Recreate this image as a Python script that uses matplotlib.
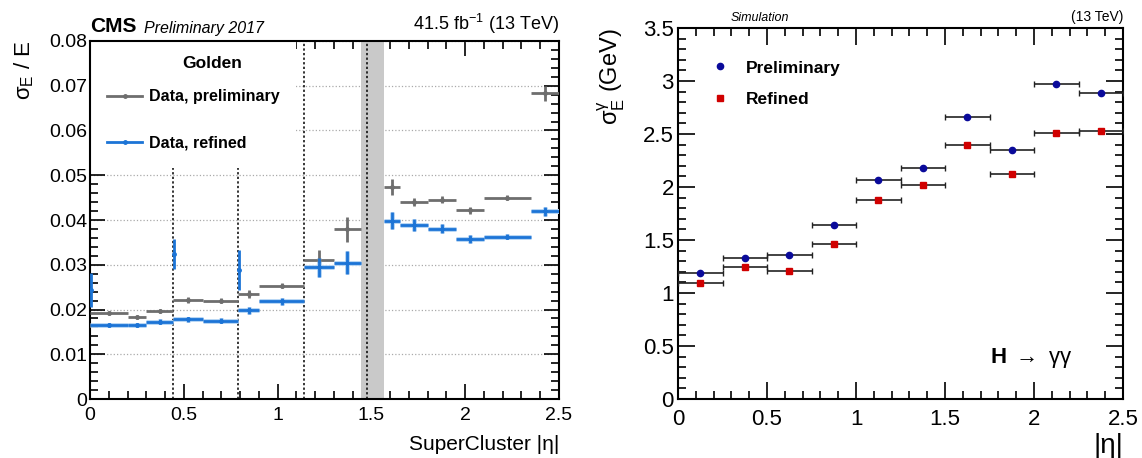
import matplotlib
matplotlib.use("Agg")
import matplotlib.pyplot as plt
from matplotlib.lines import Line2D
from matplotlib.patches import Rectangle
from matplotlib.ticker import MultipleLocator

plt.rcParams['font.family'] = ['Liberation Sans', 'DejaVu Sans']
plt.rcParams['mathtext.fontset'] = 'custom'
plt.rcParams['mathtext.rm'] = 'Liberation Sans'
plt.rcParams['mathtext.it'] = 'Liberation Sans:italic'
plt.rcParams['mathtext.bf'] = 'Liberation Sans:bold'

# ---- left panel: sigma_E / E vs SuperCluster |eta| ----
bin_lo = [0.0, 0.2, 0.3, 0.4442, 0.6, 0.7915, 0.9, 1.1426, 1.3, 1.566, 1.65, 1.8, 1.95, 2.1, 2.35]
bin_hi = [0.2, 0.3, 0.4442, 0.6, 0.7915, 0.9, 1.1426, 1.3, 1.4442, 1.65, 1.8, 1.95, 2.1, 2.35, 2.5]
prelim = [0.0192, 0.0183, 0.0197, 0.0221, 0.0220, 0.0235, 0.0253, 0.0311, 0.0379,
          0.0473, 0.0441, 0.0445, 0.0422, 0.0450, 0.0683]
prelim_err = [0.0004, 0.0005, 0.0005, 0.0006, 0.0005, 0.0009, 0.0006, 0.0022, 0.0028,
              0.0018, 0.0009, 0.0008, 0.0008, 0.0005, 0.0016]
refined = [0.0165, 0.0165, 0.0173, 0.0178, 0.0175, 0.0198, 0.0218, 0.0294, 0.0305,
           0.0398, 0.0389, 0.0381, 0.0358, 0.0363, 0.0419]
refined_err = [0.0004, 0.0005, 0.0005, 0.0005, 0.0005, 0.0008, 0.0007, 0.0022, 0.0026,
               0.0019, 0.0013, 0.0009, 0.0009, 0.0006, 0.0009]
# narrow bins at the module cracks (refined only)
crack_lo = [0.0, 0.4442, 0.7915]
crack_hi = [0.01, 0.4492, 0.7965]
crack_val = [0.0244, 0.0324, 0.0288]
crack_err = [0.0038, 0.0034, 0.0045]
module_edges = [0.4442, 0.7915, 1.1426, 1.479]
gap_lo, gap_hi = 1.4442, 1.566

# ---- right panel: sigma_E^gamma (GeV) vs |eta| ----
eta_lo = [0.0, 0.25, 0.5, 0.75, 1.0, 1.25, 1.5, 1.75, 2.0, 2.25]
eta_hi = [0.25, 0.5, 0.75, 1.0, 1.25, 1.5, 1.75, 2.0, 2.25, 2.5]
sig_prelim = [1.186, 1.327, 1.355, 1.638, 2.066, 2.179, 2.663, 2.349, 2.975, 2.890]
sig_refined = [1.091, 1.248, 1.211, 1.459, 1.877, 2.019, 2.393, 2.126, 2.509, 2.525]

gray = '#6e6e6e'
blue = '#1c74d6'
navy = '#0a0a9a'
red = '#d00000'


def centers(lo, hi):
    return [(a + b) / 2 for a, b in zip(lo, hi)]


def halfw(lo, hi):
    return [(b - a) / 2 for a, b in zip(lo, hi)]


def root_ticks(ax, xmaj, xmin, ymaj, ymin, maj_len, min_len):
    ax.xaxis.set_major_locator(MultipleLocator(xmaj))
    ax.xaxis.set_minor_locator(MultipleLocator(xmin))
    ax.yaxis.set_major_locator(MultipleLocator(ymaj))
    ax.yaxis.set_minor_locator(MultipleLocator(ymin))
    ax.tick_params(which='both', direction='in', top=True, right=True, width=1.2)
    ax.tick_params(which='major', length=maj_len)
    ax.tick_params(which='minor', length=min_len)
    for s in ax.spines.values():
        s.set_linewidth(1.5)


fig = plt.figure(figsize=(11.42, 4.58), dpi=100)

# ================= left =================
ax1 = fig.add_axes([0.0788, 0.1288, 0.4107, 0.7817])
ax1.set_xlim(0, 2.5)
ax1.set_ylim(0, 0.08)
root_ticks(ax1, 0.5, 0.1, 0.01, 0.002, 11, 6)
ax1.tick_params(axis='both', labelsize=14)
ax1.tick_params(axis='x', pad=6)
ax1.tick_params(axis='y', pad=2)
ax1.yaxis.set_major_formatter(plt.FuncFormatter(lambda v, p: '0' if v == 0 else f'{v:.2f}'))
ax1.xaxis.set_major_formatter(plt.FuncFormatter(lambda v, p: f'{v:g}'))
ax1.set_axisbelow(True)
ax1.grid(axis='y', which='major', ls=':', color='#aaaaaa', lw=0.9)

ax1.axvspan(gap_lo, gap_hi, color='#c9c9c9', lw=0, zorder=1)
for e in module_edges:
    ax1.axvline(e, color='black', ls=(0, (1.5, 1.5)), lw=1.1, zorder=1.5)
# white legend area
ax1.add_patch(Rectangle((0, 0.645), 0.44, 0.355, transform=ax1.transAxes,
                        facecolor='white', edgecolor='none', zorder=2))

xc = centers(bin_lo, bin_hi)
xw = halfw(bin_lo, bin_hi)
ax1.errorbar(xc, prelim, xerr=xw, yerr=prelim_err, fmt='o', ms=2.5, color=gray,
             elinewidth=2, capsize=0, zorder=3)
ax1.errorbar(xc, refined, xerr=xw, yerr=refined_err, fmt='none', ecolor='#b4d4f4',
             elinewidth=3.5, capsize=0, zorder=3)
ax1.errorbar(xc, refined, xerr=xw, yerr=refined_err, fmt='o', ms=2.5, color=blue,
             elinewidth=2, capsize=0, zorder=3.5)
cc = centers(crack_lo, crack_hi)
cw = halfw(crack_lo, crack_hi)
ax1.errorbar(cc, crack_val, xerr=cw, yerr=crack_err, fmt='o', ms=2.5, color=blue,
             elinewidth=2, capsize=0, zorder=3.5)

handles = [Line2D([], [], color=gray, lw=2, marker='o', ms=2.5),
           Line2D([], [], color=blue, lw=2, marker='o', ms=2.5)]
leg = ax1.legend(handles, ['Data, preliminary', 'Data, refined'],
                 loc='center left', bbox_to_anchor=(0.006, 0.78), frameon=False,
                 labelspacing=1.95, handlelength=2.2, handletextpad=0.4,
                 prop={'weight': 'bold', 'size': 11.5})
leg.set_zorder(5)
ax1.text(0.26, 0.9385, 'Golden', transform=ax1.transAxes, fontsize=12.5,
         fontweight='bold', ha='center', va='center', zorder=5)

ax1.set_ylabel('σ$_\\mathrm{E}$ / E', fontsize=16, loc='top')
ax1.yaxis.set_label_coords(-0.115, 1.0)
ax1.set_xlabel('SuperCluster |η|', fontsize=15, loc='right', labelpad=8)

ax1.text(0.0, 1.015, 'CMS', transform=ax1.transAxes, fontsize=15, fontweight='bold',
         ha='left', va='bottom')
ax1.text(0.115, 1.015, 'Preliminary 2017', transform=ax1.transAxes, fontsize=11.5,
         style='italic', ha='left', va='bottom')
ax1.text(1.0, 1.015, r'41.5 fb$^{-1}$ (13 TeV)', transform=ax1.transAxes, fontsize=13,
         ha='right', va='bottom')

# ================= right =================
ax2 = fig.add_axes([0.5937, 0.1288, 0.3897, 0.810])
ax2.set_xlim(0, 2.5)
ax2.set_ylim(0, 3.5)
root_ticks(ax2, 0.5, 0.1, 0.5, 0.1, 12, 6)
ax2.tick_params(axis='both', labelsize=16)
ax2.tick_params(axis='x', pad=7)
ax2.tick_params(axis='y', pad=3)
ax2.xaxis.set_major_formatter(plt.FuncFormatter(lambda v, p: f'{v:g}'))
ax2.yaxis.set_major_formatter(plt.FuncFormatter(lambda v, p: f'{v:g}'))

ec = centers(eta_lo, eta_hi)
ew = halfw(eta_lo, eta_hi)
ax2.errorbar(ec, sig_prelim, xerr=ew, fmt='o', ms=4.5, color=navy, ecolor='#222222',
             elinewidth=1.2, capsize=2.5, capthick=1.0, label='Preliminary', zorder=3)
ax2.errorbar(ec, sig_refined, xerr=ew, fmt='s', ms=5, color=red, ecolor='#222222',
             elinewidth=1.2, capsize=2.5, capthick=1.0, label='Refined', zorder=3)

lh = [Line2D([], [], ls='none', marker='o', ms=4.5, color=navy),
      Line2D([], [], ls='none', marker='s', ms=5, color=red)]
ax2.legend(lh, ['Preliminary', 'Refined'], loc='upper left', bbox_to_anchor=(0.035, 0.955),
           frameon=False, prop={'weight': 'bold', 'size': 12.5}, labelspacing=0.95,
           handlelength=1.2, handletextpad=0.9)

ax2.text(0.886, 0.11, '$\\mathbf{H}$ $\\rightarrow$ γγ', transform=ax2.transAxes,
         fontsize=16, ha='right', va='center')

ax2.set_ylabel('σ$_\\mathrm{E}^\\mathrm{γ}$ (GeV)', fontsize=17, loc='top')
ax2.yaxis.set_label_coords(-0.115, 1.0)
ax2.set_xlabel('|η|', fontsize=20, loc='right', labelpad=2)

ax2.text(0.185, 1.012, 'Simulation', transform=ax2.transAxes, fontsize=9,
         style='italic', ha='center', va='bottom')
ax2.text(1.0, 1.012, '(13 TeV)', transform=ax2.transAxes, fontsize=10,
         ha='right', va='bottom')

fig.savefig('out.png', dpi=100)
